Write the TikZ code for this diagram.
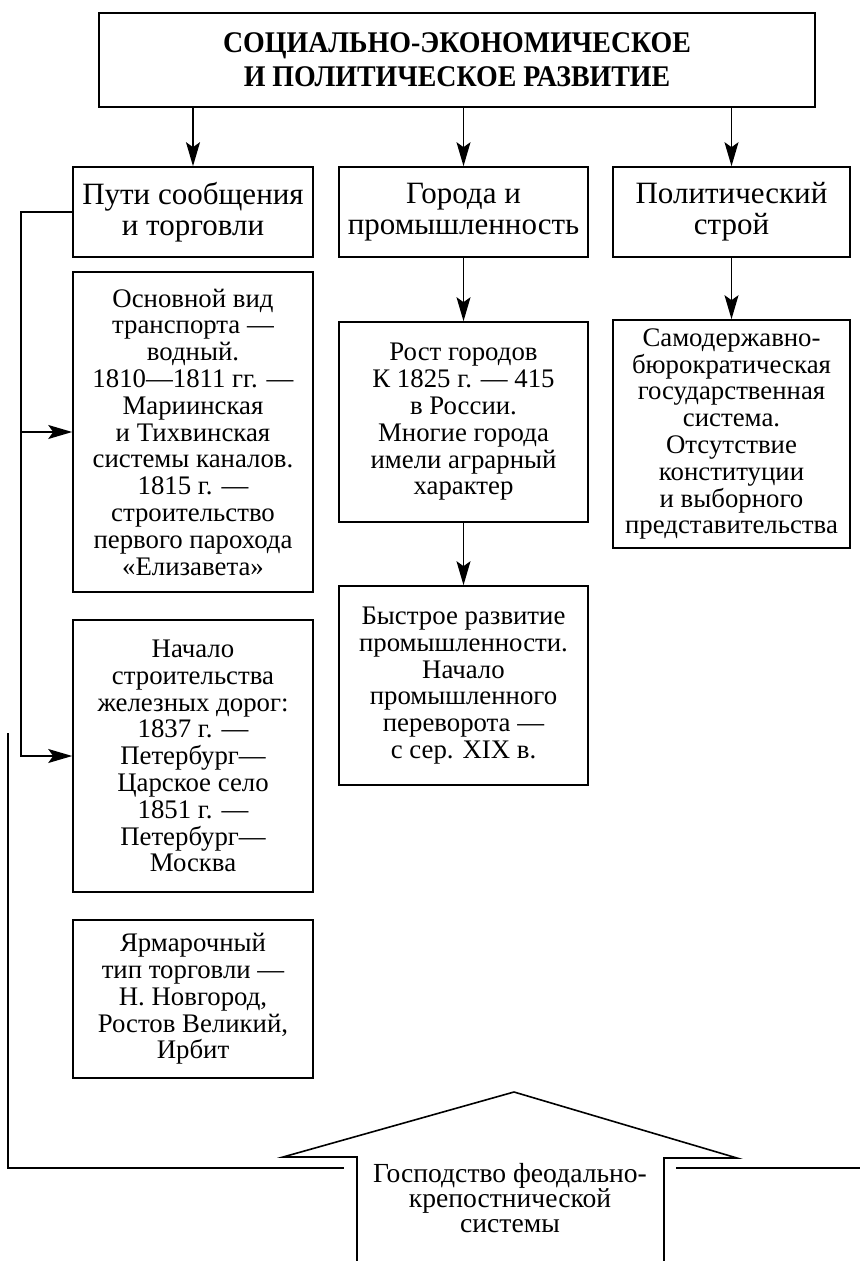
\documentclass[tikz,border=0pt]{standalone}
\usepackage{fontspec}
\setmainfont{Liberation Serif}
\newfontfamily\narrowfont[FakeStretch=0.93]{Liberation Serif}
\usetikzlibrary{positioning, arrows.meta, calc}

\begin{document}
\begin{tikzpicture}[
        x=0.5pt, y=-0.5pt,
        title/.style={draw, line width=0.8pt, minimum width=358pt, minimum height=47pt, inner sep=0pt, align=center, font=\narrowfont\fontsize{15}{17}\selectfont\bfseries},
        topic/.style={draw, line width=0.8pt, minimum width=#1, minimum height=45pt, inner sep=0pt, align=center, font=\fontsize{15.5}{15.5}\selectfont},
        fact/.style 2 args={draw, line width=0.8pt, minimum width=#1, minimum height=#2, inner sep=0pt, align=center, font=\fontsize{13.4}{13.4}\selectfont},
        link/.style={-{Stealth[length=12pt, width=7pt, inset=2.5pt]}, line width=0.7pt},
        rim/.style={line width=0.8pt},
    ]
    \useasboundingbox (0,0) rectangle (860,1261);

    % Heading
    \node[title] (top) at (457,60) {СОЦИАЛЬНО-ЭКОНОМИЧЕСКОЕ\\И ПОЛИТИЧЕСКОЕ РАЗВИТИЕ};

    % Topics
    \node[topic=120pt] (ways) at (193,212) {Пути сообщения\\и торговли};
    \node[topic=124.5pt] (towns) at (463.5,212) {Города и\\промышленность};
    \node[topic=118.5pt] (power) at (731.5,212) {Политический\\строй};

    \draw[link] (top.south -| ways.north) -- (ways.north);
    \draw[link] (top.south -| towns.north) -- (towns.north);
    \draw[link] (top.south -| power.north) -- (power.north);

    % Ways of communication
    \node[fact={120pt}{160pt}] (water) at (193,432) {Основной вид\\транспорта ---\\водный.\\1810---1811 гг. ---\\Мариинская\\и Тихвинская\\системы каналов.\\1815 г. ---\\строительство\\первого парохода\\«Елизавета»};
    \node[fact={120pt}{136pt}] (rail) at (193,756) {Начало\\строительства\\железных дорог:\\1837 г. ---\\Петербург---\\Царское село\\1851 г. ---\\Петербург---\\Москва};
    \node[fact={120pt}{79pt}] (fair) at (193,999) {Ярмарочный\\тип торговли ---\\Н. Новгород,\\Ростов Великий,\\Ирбит};

    \coordinate (spine) at (21,212);
    \draw[link] (ways.west) -- (spine) |- (rail.west);
    \draw[link] (spine |- water.west) -- (water.west);

    % Towns and industry
    \node[fact={124.5pt}{100pt}] (growth) at (463.5,422) {Рост городов\\К 1825 г. --- 415\\в России.\\Многие города\\имели аграрный\\характер};
    \node[fact={124.5pt}{99.5pt}] (industry) at (463.5,685.5) {Быстрое развитие\\промышленности.\\Начало\\промышленного\\переворота ---\\с сер. XIX в.};

    \draw[link] (towns) -- (growth);
    \draw[link] (growth) -- (industry);

    % Political order
    \node[fact={118.5pt}{114pt}] (autocracy) at (731.5,434) {Самодержавно-\\бюрократическая\\государственная\\система.\\Отсутствие\\конституции\\и выборного\\представительства};

    \draw[link] (power) -- (autocracy);

    % Base
    \node[font=\fontsize{13.8}{12.6}\selectfont, align=center] (serfdom) at (510,1198) {Господство феодально-\\крепостнической\\системы};
    \draw[rim] (357,1261) -- (357,1157) -- (283,1157) -- (514,1092) -- (737,1158) -- (664,1158) -- (664,1261);
    \draw[rim] (8,733) |- (344,1168);
    \draw[rim] (676,1168) -- (860,1168);
\end{tikzpicture}
\end{document}
